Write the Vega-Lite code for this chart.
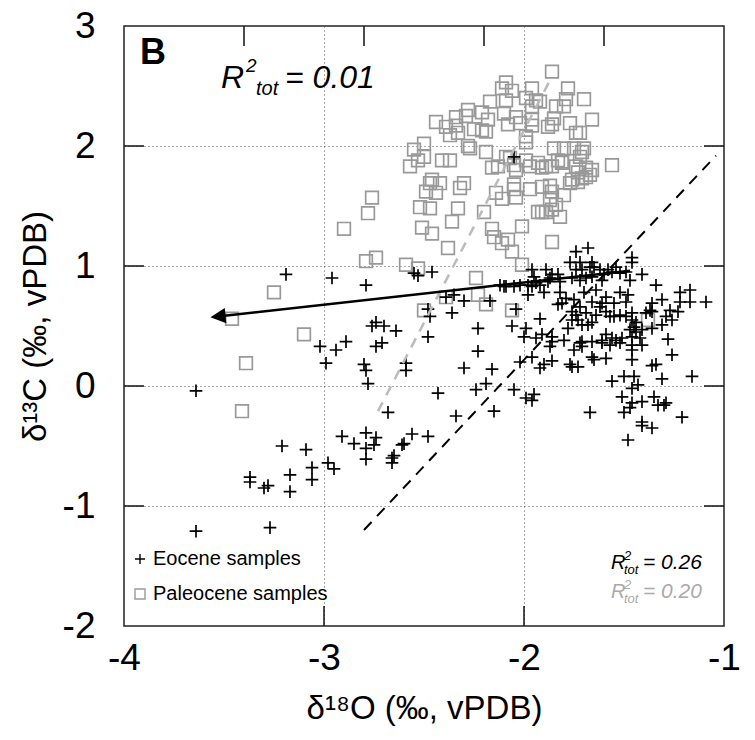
{
"$schema":"https://vega.github.io/schema/vega-lite/v6.json",
"width":600,"height":600,
"autosize":{"type":"none"},
"padding":{"left":124,"top":26,"right":31,"bottom":114},
"background":"white",
"config":{"view":{"stroke":"#222222","strokeWidth":1.5},"font":"Liberation Sans"},
"datasets":{
"samples":[
{"series":"Paleocene samples","d18O":-1.86,"d13C":2.62},{"series":"Paleocene samples","d18O":-2.09,"d13C":2.53},{"series":"Paleocene samples","d18O":-2.11,"d13C":2.48},{"series":"Paleocene samples","d18O":-2.06,"d13C":2.46},{"series":"Paleocene samples","d18O":-2.09,"d13C":2.38},{"series":"Paleocene samples","d18O":-1.96,"d13C":2.48},{"series":"Paleocene samples","d18O":-1.99,"d13C":2.40},{"series":"Paleocene samples","d18O":-1.94,"d13C":2.38},{"series":"Paleocene samples","d18O":-1.92,"d13C":2.37},{"series":"Paleocene samples","d18O":-1.96,"d13C":2.33},
{"series":"Paleocene samples","d18O":-1.78,"d13C":2.48},{"series":"Paleocene samples","d18O":-1.79,"d13C":2.39},{"series":"Paleocene samples","d18O":-1.80,"d13C":2.33},{"series":"Paleocene samples","d18O":-1.84,"d13C":2.33},{"series":"Paleocene samples","d18O":-1.70,"d13C":2.39},{"series":"Paleocene samples","d18O":-2.17,"d13C":2.37},{"series":"Paleocene samples","d18O":-2.28,"d13C":2.30},{"series":"Paleocene samples","d18O":-2.29,"d13C":2.25},{"series":"Paleocene samples","d18O":-2.21,"d13C":2.28},{"series":"Paleocene samples","d18O":-2.10,"d13C":2.27},
{"series":"Paleocene samples","d18O":-2.04,"d13C":2.24},{"series":"Paleocene samples","d18O":-2.08,"d13C":2.18},{"series":"Paleocene samples","d18O":-2.02,"d13C":2.19},{"series":"Paleocene samples","d18O":-1.96,"d13C":2.22},{"series":"Paleocene samples","d18O":-1.96,"d13C":2.17},{"series":"Paleocene samples","d18O":-2.18,"d13C":2.22},{"series":"Paleocene samples","d18O":-2.21,"d13C":2.13},{"series":"Paleocene samples","d18O":-2.19,"d13C":2.12},{"series":"Paleocene samples","d18O":-2.25,"d13C":2.14},{"series":"Paleocene samples","d18O":-2.34,"d13C":2.24},
{"series":"Paleocene samples","d18O":-2.44,"d13C":2.20},{"series":"Paleocene samples","d18O":-2.39,"d13C":2.16},{"series":"Paleocene samples","d18O":-2.37,"d13C":2.09},{"series":"Paleocene samples","d18O":-2.34,"d13C":2.17},{"series":"Paleocene samples","d18O":-2.33,"d13C":2.11},{"series":"Paleocene samples","d18O":-1.85,"d13C":2.23},{"series":"Paleocene samples","d18O":-1.86,"d13C":2.18},{"series":"Paleocene samples","d18O":-1.88,"d13C":2.16},{"series":"Paleocene samples","d18O":-1.77,"d13C":2.19},{"series":"Paleocene samples","d18O":-1.72,"d13C":2.11},
{"series":"Paleocene samples","d18O":-1.74,"d13C":2.11},{"series":"Paleocene samples","d18O":-1.66,"d13C":2.22},{"series":"Paleocene samples","d18O":-1.99,"d13C":2.08},{"series":"Paleocene samples","d18O":-1.99,"d13C":2.03},{"series":"Paleocene samples","d18O":-2.55,"d13C":1.97},{"series":"Paleocene samples","d18O":-2.50,"d13C":2.02},{"series":"Paleocene samples","d18O":-2.50,"d13C":1.91},{"series":"Paleocene samples","d18O":-2.53,"d13C":1.88},{"series":"Paleocene samples","d18O":-2.57,"d13C":1.83},{"series":"Paleocene samples","d18O":-2.28,"d13C":2.00},
{"series":"Paleocene samples","d18O":-2.27,"d13C":1.98},{"series":"Paleocene samples","d18O":-2.19,"d13C":1.95},{"series":"Paleocene samples","d18O":-2.41,"d13C":1.88},{"series":"Paleocene samples","d18O":-2.37,"d13C":1.88},{"series":"Paleocene samples","d18O":-2.09,"d13C":1.91},{"series":"Paleocene samples","d18O":-2.07,"d13C":1.90},{"series":"Paleocene samples","d18O":-2.05,"d13C":1.84},{"series":"Paleocene samples","d18O":-2.13,"d13C":1.83},{"series":"Paleocene samples","d18O":-2.16,"d13C":1.82},{"series":"Paleocene samples","d18O":-2.04,"d13C":1.80},
{"series":"Paleocene samples","d18O":-1.99,"d13C":1.88},{"series":"Paleocene samples","d18O":-1.97,"d13C":1.83},{"series":"Paleocene samples","d18O":-1.93,"d13C":1.86},{"series":"Paleocene samples","d18O":-1.91,"d13C":1.82},{"series":"Paleocene samples","d18O":-1.89,"d13C":1.83},{"series":"Paleocene samples","d18O":-1.86,"d13C":1.83},{"series":"Paleocene samples","d18O":-1.83,"d13C":1.88},{"series":"Paleocene samples","d18O":-1.81,"d13C":1.86},{"series":"Paleocene samples","d18O":-1.80,"d13C":1.98},{"series":"Paleocene samples","d18O":-1.85,"d13C":1.98},
{"series":"Paleocene samples","d18O":-1.75,"d13C":1.98},{"series":"Paleocene samples","d18O":-1.71,"d13C":1.95},{"series":"Paleocene samples","d18O":-1.70,"d13C":1.98},{"series":"Paleocene samples","d18O":-1.72,"d13C":1.91},{"series":"Paleocene samples","d18O":-1.74,"d13C":1.83},{"series":"Paleocene samples","d18O":-1.69,"d13C":1.82},{"series":"Paleocene samples","d18O":-1.66,"d13C":1.80},{"series":"Paleocene samples","d18O":-1.67,"d13C":1.76},{"series":"Paleocene samples","d18O":-1.69,"d13C":1.74},{"series":"Paleocene samples","d18O":-1.71,"d13C":1.73},
{"series":"Paleocene samples","d18O":-1.73,"d13C":1.78},{"series":"Paleocene samples","d18O":-1.76,"d13C":1.72},{"series":"Paleocene samples","d18O":-1.77,"d13C":1.69},{"series":"Paleocene samples","d18O":-1.73,"d13C":1.70},{"series":"Paleocene samples","d18O":-1.81,"d13C":1.87},{"series":"Paleocene samples","d18O":-1.56,"d13C":1.84},{"series":"Paleocene samples","d18O":-2.46,"d13C":1.72},{"series":"Paleocene samples","d18O":-2.47,"d13C":1.69},{"series":"Paleocene samples","d18O":-2.49,"d13C":1.62},{"series":"Paleocene samples","d18O":-2.44,"d13C":1.61},
{"series":"Paleocene samples","d18O":-2.42,"d13C":1.69},{"series":"Paleocene samples","d18O":-2.30,"d13C":1.69},{"series":"Paleocene samples","d18O":-2.32,"d13C":1.65},{"series":"Paleocene samples","d18O":-2.05,"d13C":1.68},{"series":"Paleocene samples","d18O":-2.05,"d13C":1.64},{"series":"Paleocene samples","d18O":-2.04,"d13C":1.57},{"series":"Paleocene samples","d18O":-2.11,"d13C":1.56},{"series":"Paleocene samples","d18O":-2.14,"d13C":1.61},{"series":"Paleocene samples","d18O":-1.97,"d13C":1.64},{"series":"Paleocene samples","d18O":-1.91,"d13C":1.66},
{"series":"Paleocene samples","d18O":-1.87,"d13C":1.67},{"series":"Paleocene samples","d18O":-1.86,"d13C":1.62},{"series":"Paleocene samples","d18O":-1.87,"d13C":1.55},{"series":"Paleocene samples","d18O":-1.84,"d13C":1.51},{"series":"Paleocene samples","d18O":-1.80,"d13C":1.59},{"series":"Paleocene samples","d18O":-1.82,"d13C":1.41},{"series":"Paleocene samples","d18O":-1.93,"d13C":1.45},{"series":"Paleocene samples","d18O":-1.91,"d13C":1.45},{"series":"Paleocene samples","d18O":-2.52,"d13C":1.49},{"series":"Paleocene samples","d18O":-2.47,"d13C":1.48},
{"series":"Paleocene samples","d18O":-2.33,"d13C":1.48},{"series":"Paleocene samples","d18O":-2.20,"d13C":1.45},{"series":"Paleocene samples","d18O":-2.51,"d13C":1.32},{"series":"Paleocene samples","d18O":-2.46,"d13C":1.27},{"series":"Paleocene samples","d18O":-2.36,"d13C":1.37},{"series":"Paleocene samples","d18O":-2.01,"d13C":1.33},{"series":"Paleocene samples","d18O":-2.16,"d13C":1.31},{"series":"Paleocene samples","d18O":-2.15,"d13C":1.24},{"series":"Paleocene samples","d18O":-2.11,"d13C":1.19},{"series":"Paleocene samples","d18O":-2.08,"d13C":1.22},
{"series":"Paleocene samples","d18O":-2.06,"d13C":1.12},{"series":"Paleocene samples","d18O":-2.38,"d13C":1.15},{"series":"Paleocene samples","d18O":-1.86,"d13C":1.20},{"series":"Paleocene samples","d18O":-2.59,"d13C":1.01},{"series":"Paleocene samples","d18O":-2.53,"d13C":0.98},{"series":"Paleocene samples","d18O":-2.01,"d13C":1.01},{"series":"Paleocene samples","d18O":-2.79,"d13C":1.04},{"series":"Paleocene samples","d18O":-2.74,"d13C":1.07},{"series":"Paleocene samples","d18O":-3.25,"d13C":0.78},{"series":"Paleocene samples","d18O":-3.46,"d13C":0.56},
{"series":"Paleocene samples","d18O":-3.10,"d13C":0.43},{"series":"Paleocene samples","d18O":-3.39,"d13C":0.19},{"series":"Paleocene samples","d18O":-3.41,"d13C":-0.21},{"series":"Paleocene samples","d18O":-2.50,"d13C":0.63},{"series":"Paleocene samples","d18O":-2.39,"d13C":0.74},{"series":"Paleocene samples","d18O":-2.24,"d13C":0.90},{"series":"Paleocene samples","d18O":-2.23,"d13C":0.76},{"series":"Paleocene samples","d18O":-2.19,"d13C":0.68},{"series":"Paleocene samples","d18O":-2.06,"d13C":0.63},{"series":"Paleocene samples","d18O":-1.38,"d13C":0.55},
{"series":"Paleocene samples","d18O":-2.76,"d13C":1.57},{"series":"Paleocene samples","d18O":-2.78,"d13C":1.44},{"series":"Paleocene samples","d18O":-2.90,"d13C":1.31},{"series":"Paleocene samples","d18O":-1.86,"d13C":1.47},{"series":"Paleocene samples","d18O":-1.89,"d13C":1.45},
{"series":"Eocene samples","d18O":-3.64,"d13C":-0.04},{"series":"Eocene samples","d18O":-3.64,"d13C":-1.21},{"series":"Eocene samples","d18O":-3.27,"d13C":-1.18},{"series":"Eocene samples","d18O":-3.19,"d13C":0.93},{"series":"Eocene samples","d18O":-2.96,"d13C":0.90},{"series":"Eocene samples","d18O":-2.79,"d13C":0.84},{"series":"Eocene samples","d18O":-2.55,"d13C":0.94},{"series":"Eocene samples","d18O":-2.53,"d13C":0.92},{"series":"Eocene samples","d18O":-2.46,"d13C":0.95},{"series":"Eocene samples","d18O":-2.48,"d13C":0.64},
{"series":"Eocene samples","d18O":-2.47,"d13C":0.58},{"series":"Eocene samples","d18O":-2.48,"d13C":0.41},{"series":"Eocene samples","d18O":-2.74,"d13C":0.53},{"series":"Eocene samples","d18O":-2.70,"d13C":0.50},{"series":"Eocene samples","d18O":-2.76,"d13C":0.50},{"series":"Eocene samples","d18O":-2.64,"d13C":0.46},{"series":"Eocene samples","d18O":-2.71,"d13C":0.36},{"series":"Eocene samples","d18O":-2.74,"d13C":0.33},{"series":"Eocene samples","d18O":-3.02,"d13C":0.33},{"series":"Eocene samples","d18O":-2.94,"d13C":0.30},
{"series":"Eocene samples","d18O":-2.89,"d13C":0.37},{"series":"Eocene samples","d18O":-2.99,"d13C":0.19},{"series":"Eocene samples","d18O":-2.80,"d13C":0.18},{"series":"Eocene samples","d18O":-2.79,"d13C":0.13},{"series":"Eocene samples","d18O":-2.59,"d13C":0.19},{"series":"Eocene samples","d18O":-2.59,"d13C":0.13},{"series":"Eocene samples","d18O":-2.78,"d13C":0.02},{"series":"Eocene samples","d18O":-2.43,"d13C":-0.06},{"series":"Eocene samples","d18O":-2.68,"d13C":-0.22},{"series":"Eocene samples","d18O":-2.91,"d13C":-0.42},
{"series":"Eocene samples","d18O":-2.85,"d13C":-0.48},{"series":"Eocene samples","d18O":-2.79,"d13C":-0.39},{"series":"Eocene samples","d18O":-2.79,"d13C":-0.52},{"series":"Eocene samples","d18O":-2.74,"d13C":-0.43},{"series":"Eocene samples","d18O":-2.75,"d13C":-0.49},{"series":"Eocene samples","d18O":-2.79,"d13C":-0.61},{"series":"Eocene samples","d18O":-2.66,"d13C":-0.60},{"series":"Eocene samples","d18O":-2.65,"d13C":-0.58},{"series":"Eocene samples","d18O":-2.66,"d13C":-0.64},{"series":"Eocene samples","d18O":-2.61,"d13C":-0.49},
{"series":"Eocene samples","d18O":-2.60,"d13C":-0.48},{"series":"Eocene samples","d18O":-2.56,"d13C":-0.40},{"series":"Eocene samples","d18O":-2.48,"d13C":-0.42},{"series":"Eocene samples","d18O":-3.21,"d13C":-0.50},{"series":"Eocene samples","d18O":-3.09,"d13C":-0.53},{"series":"Eocene samples","d18O":-3.06,"d13C":-0.68},{"series":"Eocene samples","d18O":-3.06,"d13C":-0.78},{"series":"Eocene samples","d18O":-3.17,"d13C":-0.74},{"series":"Eocene samples","d18O":-3.17,"d13C":-0.88},{"series":"Eocene samples","d18O":-3.37,"d13C":-0.76},
{"series":"Eocene samples","d18O":-3.37,"d13C":-0.80},{"series":"Eocene samples","d18O":-3.30,"d13C":-0.85},{"series":"Eocene samples","d18O":-3.28,"d13C":-0.83},{"series":"Eocene samples","d18O":-2.98,"d13C":-0.64},{"series":"Eocene samples","d18O":-2.95,"d13C":-0.69},{"series":"Eocene samples","d18O":-2.39,"d13C":0.74},{"series":"Eocene samples","d18O":-2.35,"d13C":0.76},{"series":"Eocene samples","d18O":-2.30,"d13C":0.71},{"series":"Eocene samples","d18O":-2.17,"d13C":0.71},{"series":"Eocene samples","d18O":-2.36,"d13C":0.61},
{"series":"Eocene samples","d18O":-2.23,"d13C":0.48},{"series":"Eocene samples","d18O":-2.23,"d13C":0.29},{"series":"Eocene samples","d18O":-2.30,"d13C":0.15},{"series":"Eocene samples","d18O":-2.16,"d13C":0.14},{"series":"Eocene samples","d18O":-2.34,"d13C":-0.25},{"series":"Eocene samples","d18O":-2.24,"d13C":-0.03},{"series":"Eocene samples","d18O":-2.19,"d13C":0.02},{"series":"Eocene samples","d18O":-2.15,"d13C":-0.21},{"series":"Eocene samples","d18O":-2.05,"d13C":-0.03},{"series":"Eocene samples","d18O":-1.99,"d13C":-0.10},
{"series":"Eocene samples","d18O":-1.96,"d13C":-0.12},{"series":"Eocene samples","d18O":-1.95,"d13C":-0.07},{"series":"Eocene samples","d18O":-2.04,"d13C":0.64},{"series":"Eocene samples","d18O":-2.06,"d13C":0.50},{"series":"Eocene samples","d18O":-1.99,"d13C":0.48},{"series":"Eocene samples","d18O":-2.00,"d13C":0.41},{"series":"Eocene samples","d18O":-1.94,"d13C":0.40},{"series":"Eocene samples","d18O":-1.92,"d13C":0.56},{"series":"Eocene samples","d18O":-1.96,"d13C":0.24},{"series":"Eocene samples","d18O":-2.02,"d13C":0.20},
{"series":"Eocene samples","d18O":-1.92,"d13C":0.15},{"series":"Eocene samples","d18O":-1.90,"d13C":0.18},{"series":"Eocene samples","d18O":-1.86,"d13C":0.21},{"series":"Eocene samples","d18O":-1.87,"d13C":0.33},{"series":"Eocene samples","d18O":-1.86,"d13C":0.37},{"series":"Eocene samples","d18O":-1.80,"d13C":0.38},{"series":"Eocene samples","d18O":-1.75,"d13C":0.30},{"series":"Eocene samples","d18O":-1.71,"d13C":0.37},{"series":"Eocene samples","d18O":-1.71,"d13C":0.33},{"series":"Eocene samples","d18O":-1.77,"d13C":0.18},
{"series":"Eocene samples","d18O":-1.76,"d13C":0.16},{"series":"Eocene samples","d18O":-1.73,"d13C":0.16},{"series":"Eocene samples","d18O":-1.66,"d13C":0.24},{"series":"Eocene samples","d18O":-1.65,"d13C":0.22},{"series":"Eocene samples","d18O":-1.59,"d13C":0.23},{"series":"Eocene samples","d18O":-1.67,"d13C":-0.22},{"series":"Eocene samples","d18O":-2.12,"d13C":0.84},{"series":"Eocene samples","d18O":-2.09,"d13C":0.83},{"series":"Eocene samples","d18O":-2.02,"d13C":0.84},{"series":"Eocene samples","d18O":-2.05,"d13C":0.83},
{"series":"Eocene samples","d18O":-1.56,"d13C":0.04},{"series":"Eocene samples","d18O":-1.50,"d13C":0.08},{"series":"Eocene samples","d18O":-1.45,"d13C":0.08},{"series":"Eocene samples","d18O":-1.46,"d13C":0.22},{"series":"Eocene samples","d18O":-1.46,"d13C":-0.02},{"series":"Eocene samples","d18O":-1.43,"d13C":0.01},{"series":"Eocene samples","d18O":-1.51,"d13C":-0.09},{"series":"Eocene samples","d18O":-1.46,"d13C":-0.14},{"series":"Eocene samples","d18O":-1.47,"d13C":-0.18},{"series":"Eocene samples","d18O":-1.41,"d13C":-0.13},
{"series":"Eocene samples","d18O":-1.35,"d13C":-0.09},{"series":"Eocene samples","d18O":-1.33,"d13C":-0.16},{"series":"Eocene samples","d18O":-1.30,"d13C":-0.16},{"series":"Eocene samples","d18O":-1.29,"d13C":-0.14},{"series":"Eocene samples","d18O":-1.50,"d13C":-0.22},{"series":"Eocene samples","d18O":-1.41,"d13C":-0.30},{"series":"Eocene samples","d18O":-1.41,"d13C":-0.33},{"series":"Eocene samples","d18O":-1.36,"d13C":-0.35},{"series":"Eocene samples","d18O":-1.21,"d13C":-0.26},{"series":"Eocene samples","d18O":-1.48,"d13C":-0.45},
{"series":"Eocene samples","d18O":-1.36,"d13C":0.17},{"series":"Eocene samples","d18O":-1.34,"d13C":0.18},{"series":"Eocene samples","d18O":-1.31,"d13C":0.06},{"series":"Eocene samples","d18O":-1.16,"d13C":0.08},{"series":"Eocene samples","d18O":-1.26,"d13C":0.26},{"series":"Eocene samples","d18O":-1.28,"d13C":0.39},{"series":"Eocene samples","d18O":-1.22,"d13C":0.78},{"series":"Eocene samples","d18O":-1.17,"d13C":0.80},{"series":"Eocene samples","d18O":-1.22,"d13C":0.70},{"series":"Eocene samples","d18O":-1.17,"d13C":0.70},
{"series":"Eocene samples","d18O":-1.09,"d13C":0.70},{"series":"Eocene samples","d18O":-1.31,"d13C":0.72},{"series":"Eocene samples","d18O":-1.36,"d13C":0.69},{"series":"Eocene samples","d18O":-1.37,"d13C":0.63},{"series":"Eocene samples","d18O":-1.36,"d13C":0.62},{"series":"Eocene samples","d18O":-1.39,"d13C":0.61},{"series":"Eocene samples","d18O":-1.27,"d13C":0.63},{"series":"Eocene samples","d18O":-1.23,"d13C":0.62},{"series":"Eocene samples","d18O":-1.29,"d13C":0.58},{"series":"Eocene samples","d18O":-1.26,"d13C":0.55},
{"series":"Eocene samples","d18O":-1.31,"d13C":0.51},{"series":"Eocene samples","d18O":-1.36,"d13C":0.48},{"series":"Eocene samples","d18O":-1.34,"d13C":0.84},{"series":"Eocene samples","d18O":-1.41,"d13C":0.93},{"series":"Eocene samples","d18O":-1.46,"d13C":1.07},{"series":"Eocene samples","d18O":-1.46,"d13C":1.03},{"series":"Eocene samples","d18O":-1.54,"d13C":0.99},{"series":"Eocene samples","d18O":-1.56,"d13C":0.95},{"series":"Eocene samples","d18O":-1.52,"d13C":0.94},{"series":"Eocene samples","d18O":-1.49,"d13C":0.95},
{"series":"Eocene samples","d18O":-1.60,"d13C":0.93},{"series":"Eocene samples","d18O":-1.61,"d13C":0.88},{"series":"Eocene samples","d18O":-1.47,"d13C":0.88},{"series":"Eocene samples","d18O":-1.52,"d13C":0.78},{"series":"Eocene samples","d18O":-1.48,"d13C":0.76},{"series":"Eocene samples","d18O":-1.59,"d13C":0.74},{"series":"Eocene samples","d18O":-1.61,"d13C":0.69},{"series":"Eocene samples","d18O":-1.55,"d13C":0.69},{"series":"Eocene samples","d18O":-1.49,"d13C":0.70},{"series":"Eocene samples","d18O":-1.59,"d13C":0.62},
{"series":"Eocene samples","d18O":-1.57,"d13C":0.58},{"series":"Eocene samples","d18O":-1.55,"d13C":0.58},{"series":"Eocene samples","d18O":-1.52,"d13C":0.59},{"series":"Eocene samples","d18O":-1.49,"d13C":0.58},{"series":"Eocene samples","d18O":-1.46,"d13C":0.61},{"series":"Eocene samples","d18O":-1.46,"d13C":0.55},{"series":"Eocene samples","d18O":-1.44,"d13C":0.53},{"series":"Eocene samples","d18O":-1.45,"d13C":0.49},{"series":"Eocene samples","d18O":-1.47,"d13C":0.47},{"series":"Eocene samples","d18O":-1.44,"d13C":0.45},
{"series":"Eocene samples","d18O":-1.41,"d13C":0.47},{"series":"Eocene samples","d18O":-1.59,"d13C":0.43},{"series":"Eocene samples","d18O":-1.56,"d13C":0.40},{"series":"Eocene samples","d18O":-1.61,"d13C":0.38},{"series":"Eocene samples","d18O":-1.54,"d13C":0.38},{"series":"Eocene samples","d18O":-1.51,"d13C":0.40},{"series":"Eocene samples","d18O":-1.46,"d13C":0.41},{"series":"Eocene samples","d18O":-1.42,"d13C":0.40},{"series":"Eocene samples","d18O":-1.46,"d13C":0.34},{"series":"Eocene samples","d18O":-1.41,"d13C":0.34},
{"series":"Eocene samples","d18O":-1.46,"d13C":0.30},{"series":"Eocene samples","d18O":-1.74,"d13C":1.12},{"series":"Eocene samples","d18O":-1.68,"d13C":1.15},{"series":"Eocene samples","d18O":-1.77,"d13C":1.03},{"series":"Eocene samples","d18O":-1.72,"d13C":1.03},{"series":"Eocene samples","d18O":-1.66,"d13C":1.03},{"series":"Eocene samples","d18O":-1.67,"d13C":0.99},{"series":"Eocene samples","d18O":-1.65,"d13C":0.99},{"series":"Eocene samples","d18O":-1.62,"d13C":0.97},{"series":"Eocene samples","d18O":-1.74,"d13C":0.97},
{"series":"Eocene samples","d18O":-1.71,"d13C":0.97},{"series":"Eocene samples","d18O":-1.58,"d13C":0.97},{"series":"Eocene samples","d18O":-1.96,"d13C":0.97},{"series":"Eocene samples","d18O":-1.89,"d13C":0.97},{"series":"Eocene samples","d18O":-1.86,"d13C":0.93},{"series":"Eocene samples","d18O":-1.83,"d13C":0.93},{"series":"Eocene samples","d18O":-1.95,"d13C":0.91},{"series":"Eocene samples","d18O":-1.98,"d13C":0.84},{"series":"Eocene samples","d18O":-2.10,"d13C":0.83},{"series":"Eocene samples","d18O":-1.96,"d13C":0.83},
{"series":"Eocene samples","d18O":-1.92,"d13C":0.84},{"series":"Eocene samples","d18O":-1.88,"d13C":0.87},{"series":"Eocene samples","d18O":-1.82,"d13C":0.87},{"series":"Eocene samples","d18O":-1.76,"d13C":0.90},{"series":"Eocene samples","d18O":-1.72,"d13C":0.88},{"series":"Eocene samples","d18O":-1.69,"d13C":0.90},{"series":"Eocene samples","d18O":-1.66,"d13C":0.91},{"series":"Eocene samples","d18O":-1.98,"d13C":0.76},{"series":"Eocene samples","d18O":-1.90,"d13C":0.78},{"series":"Eocene samples","d18O":-1.82,"d13C":0.78},
{"series":"Eocene samples","d18O":-1.79,"d13C":0.73},{"series":"Eocene samples","d18O":-1.70,"d13C":0.78},{"series":"Eocene samples","d18O":-1.64,"d13C":0.80},{"series":"Eocene samples","d18O":-1.83,"d13C":0.68},{"series":"Eocene samples","d18O":-1.81,"d13C":0.69},{"series":"Eocene samples","d18O":-1.75,"d13C":0.72},{"series":"Eocene samples","d18O":-1.72,"d13C":0.66},{"series":"Eocene samples","d18O":-1.66,"d13C":0.70},{"series":"Eocene samples","d18O":-1.62,"d13C":0.66},{"series":"Eocene samples","d18O":-1.76,"d13C":0.62},
{"series":"Eocene samples","d18O":-1.74,"d13C":0.59},{"series":"Eocene samples","d18O":-1.69,"d13C":0.61},{"series":"Eocene samples","d18O":-1.64,"d13C":0.59},{"series":"Eocene samples","d18O":-1.78,"d13C":0.48},{"series":"Eocene samples","d18O":-1.76,"d13C":0.55},{"series":"Eocene samples","d18O":-1.73,"d13C":0.55},{"series":"Eocene samples","d18O":-1.71,"d13C":0.51},{"series":"Eocene samples","d18O":-1.68,"d13C":0.51},{"series":"Eocene samples","d18O":-1.66,"d13C":0.53},{"series":"Eocene samples","d18O":-1.91,"d13C":0.43},
{"series":"Eocene samples","d18O":-1.86,"d13C":0.41},{"series":"Eocene samples","d18O":-1.72,"d13C":0.36},{"series":"Eocene samples","d18O":-1.66,"d13C":0.37},{"series":"Eocene samples","d18O":-1.61,"d13C":0.36},{"series":"Eocene samples","d18O":-1.57,"d13C":0.34},{"series":"Eocene samples","d18O":-1.52,"d13C":0.36},{"series":"Eocene samples","d18O":-2.05,"d13C":1.91},{"series":"Eocene samples","d18O":-1.94,"d13C":0.86},{"series":"Eocene samples","d18O":-1.87,"d13C":0.90}
],
"blackDashed":[{"d18O":-2.80,"d13C":-1.20},{"d18O":-1.04,"d13C":1.92}],
"grayDashed":[{"d18O":-2.73,"d13C":-0.21},{"d18O":-1.86,"d13C":2.58}],
"arrow":[{"d18O":-1.47,"d13C":0.96},{"d18O":-3.53,"d13C":0.58}],
"arrowHead":[{"d18O":-3.53,"d13C":0.58}],
"hTicks":[{"d18O":-3.95,"d13C":-1},{"d18O":-3.95,"d13C":0},{"d18O":-3.95,"d13C":1},{"d18O":-3.95,"d13C":2},{"d18O":-1.05,"d13C":-1},{"d18O":-1.05,"d13C":0},{"d18O":-1.05,"d13C":1},{"d18O":-1.05,"d13C":2}],
"vTicks":[{"d18O":-3,"d13C":-1.9167},{"d18O":-2,"d13C":-1.9167},{"d18O":-3.4,"d13C":2.9167},{"d18O":-2.8,"d13C":2.9167},{"d18O":-2.2,"d13C":2.9167},{"d18O":-1.6,"d13C":2.9167}],
"one":[{}]
},
"layer":[
{"data":{"name":"samples"},
 "mark":{"type":"point","filled":false,"size":160,"strokeWidth":1.7,"opacity":1},
 "encoding":{
  "x":{"field":"d18O","type":"quantitative","scale":{"domain":[-4,-1],"nice":false,"zero":false},
   "axis":{"values":[-4,-3,-2,-1],"labelExpr":"toString(datum.value)","labelFontSize":37,"labelColor":"black","labelFlush":false,"ticks":false,"labelPadding":14,"domain":false,"grid":true,"gridDash":[1,3],"gridColor":"#555555","gridWidth":1,"gridOpacity":{"condition":{"test":"datum.value==-4||datum.value==-1","value":0},"value":1},"title":"δ¹⁸O (‰, vPDB)","titleFontSize":33,"titleFontWeight":"normal","titleColor":"black","titlePadding":16}},
  "y":{"field":"d13C","type":"quantitative","scale":{"domain":[-2,3],"nice":false,"zero":false},
   "axis":{"values":[-2,-1,0,1,2,3],"labelExpr":"toString(datum.value)","labelFontSize":37,"labelColor":"black","labelFlush":false,"ticks":false,"labelPadding":29,"domain":false,"grid":true,"gridDash":[1,3],"gridColor":"#555555","gridWidth":1,"gridOpacity":{"condition":{"test":"datum.value==-2||datum.value==3","value":0},"value":1},"title":"δ¹³C (‰, vPDB)","titleFontSize":33,"titleFontWeight":"normal","titleColor":"black","titlePadding":10}},
  "color":{"field":"series","type":"nominal","scale":{"domain":["Eocene samples","Paleocene samples"],"range":["#000000","#999999"]},
   "legend":{"orient":"none","legendX":6,"legendY":523,"title":null,"padding":0,"labelFontSize":20,"labelLimit":400,"labelOffset":3,"symbolSize":100,"symbolStrokeWidth":1.4,"rowPadding":15,"encode":{"labels":{"update":{"fill":{"signal":"datum.label == 'Eocene samples' ? '#000000' : '#aaaaaa'"}}}}}},
  "shape":{"field":"series","type":"nominal","scale":{"domain":["Eocene samples","Paleocene samples"],"range":["M-1,0L1,0M0,-1L0,1","square"]}}
 }},
{"data":{"name":"grayDashed"},
 "mark":{"type":"line","color":"#bbbbbb","strokeWidth":2.5,"strokeDash":[10,8]},
 "encoding":{"x":{"field":"d18O","type":"quantitative"},"y":{"field":"d13C","type":"quantitative"}}},
{"data":{"name":"blackDashed"},
 "mark":{"type":"line","color":"#000000","strokeWidth":2,"strokeDash":[11,8]},
 "encoding":{"x":{"field":"d18O","type":"quantitative"},"y":{"field":"d13C","type":"quantitative"}}},
{"data":{"name":"arrow"},
 "mark":{"type":"line","color":"#000000","strokeWidth":2.5},
 "encoding":{"x":{"field":"d18O","type":"quantitative"},"y":{"field":"d13C","type":"quantitative"}}},
{"data":{"name":"arrowHead"},
 "mark":{"type":"point","shape":"M-1,0L1,-1L1,1Z","filled":true,"color":"#000000","size":230,"angle":354,"opacity":1},
 "encoding":{"x":{"field":"d18O","type":"quantitative"},"y":{"field":"d13C","type":"quantitative"}}},
{"data":{"name":"one"},"mark":{"type":"text","align":"left","baseline":"alphabetic","fontSize":36,"fontWeight":"bold","color":"#000000"},
 "encoding":{"x":{"datum":-3.92,"type":"quantitative"},"y":{"datum":2.68,"type":"quantitative"},"text":{"value":"B"}}},
{"data":{"name":"one"},"mark":{"type":"text","align":"left","baseline":"alphabetic","fontSize":32,"fontStyle":"italic","color":"#000000"},
 "encoding":{"x":{"datum":-3.515,"type":"quantitative"},"y":{"datum":2.483,"type":"quantitative"},"text":{"value":"R"}}},
{"data":{"name":"one"},"mark":{"type":"text","align":"left","baseline":"alphabetic","fontSize":19,"fontStyle":"italic","color":"#000000","dx":25,"dy":-16},
 "encoding":{"x":{"datum":-3.515,"type":"quantitative"},"y":{"datum":2.483,"type":"quantitative"},"text":{"value":"2"}}},
{"data":{"name":"one"},"mark":{"type":"text","align":"left","baseline":"alphabetic","fontSize":20,"fontStyle":"italic","color":"#000000","dx":35,"dy":7},
 "encoding":{"x":{"datum":-3.515,"type":"quantitative"},"y":{"datum":2.483,"type":"quantitative"},"text":{"value":"tot"}}},
{"data":{"name":"one"},"mark":{"type":"text","align":"left","baseline":"alphabetic","fontSize":32,"fontStyle":"italic","color":"#000000","dx":64},
 "encoding":{"x":{"datum":-3.515,"type":"quantitative"},"y":{"datum":2.483,"type":"quantitative"},"text":{"value":"= 0.01"}}},
{"data":{"name":"one"},"mark":{"type":"text","align":"left","baseline":"alphabetic","fontSize":20,"fontStyle":"italic","color":"#000000"},
 "encoding":{"x":{"datum":-1.565,"type":"quantitative"},"y":{"datum":-1.525,"type":"quantitative"},"text":{"value":"R"}}},
{"data":{"name":"one"},"mark":{"type":"text","align":"left","baseline":"alphabetic","fontSize":13,"fontStyle":"italic","color":"#000000","dx":13,"dy":-9},
 "encoding":{"x":{"datum":-1.565,"type":"quantitative"},"y":{"datum":-1.525,"type":"quantitative"},"text":{"value":"2"}}},
{"data":{"name":"one"},"mark":{"type":"text","align":"left","baseline":"alphabetic","fontSize":13,"fontStyle":"italic","color":"#000000","dx":13,"dy":5},
 "encoding":{"x":{"datum":-1.565,"type":"quantitative"},"y":{"datum":-1.525,"type":"quantitative"},"text":{"value":"tot"}}},
{"data":{"name":"one"},"mark":{"type":"text","align":"left","baseline":"alphabetic","fontSize":21,"fontStyle":"italic","color":"#000000","dx":32},
 "encoding":{"x":{"datum":-1.565,"type":"quantitative"},"y":{"datum":-1.525,"type":"quantitative"},"text":{"value":"= 0.26"}}},
{"data":{"name":"one"},"mark":{"type":"text","align":"left","baseline":"alphabetic","fontSize":20,"fontStyle":"italic","color":"#aaaaaa"},
 "encoding":{"x":{"datum":-1.565,"type":"quantitative"},"y":{"datum":-1.767,"type":"quantitative"},"text":{"value":"R"}}},
{"data":{"name":"one"},"mark":{"type":"text","align":"left","baseline":"alphabetic","fontSize":13,"fontStyle":"italic","color":"#aaaaaa","dx":13,"dy":-9},
 "encoding":{"x":{"datum":-1.565,"type":"quantitative"},"y":{"datum":-1.767,"type":"quantitative"},"text":{"value":"2"}}},
{"data":{"name":"one"},"mark":{"type":"text","align":"left","baseline":"alphabetic","fontSize":13,"fontStyle":"italic","color":"#aaaaaa","dx":13,"dy":5},
 "encoding":{"x":{"datum":-1.565,"type":"quantitative"},"y":{"datum":-1.767,"type":"quantitative"},"text":{"value":"tot"}}},
{"data":{"name":"one"},"mark":{"type":"text","align":"left","baseline":"alphabetic","fontSize":21,"fontStyle":"italic","color":"#aaaaaa","dx":32},
 "encoding":{"x":{"datum":-1.565,"type":"quantitative"},"y":{"datum":-1.767,"type":"quantitative"},"text":{"value":"= 0.20"}}},
{"data":{"name":"hTicks"},
 "mark":{"type":"point","shape":"M-1,0L1,0","filled":false,"size":400,"color":"#111111","strokeWidth":1.5,"opacity":1},
 "encoding":{"x":{"field":"d18O","type":"quantitative"},"y":{"field":"d13C","type":"quantitative"}}},
{"data":{"name":"vTicks"},
 "mark":{"type":"point","shape":"M0,-1L0,1","filled":false,"size":400,"color":"#111111","strokeWidth":1.5,"opacity":1},
 "encoding":{"x":{"field":"d18O","type":"quantitative"},"y":{"field":"d13C","type":"quantitative"}}}
]
}
